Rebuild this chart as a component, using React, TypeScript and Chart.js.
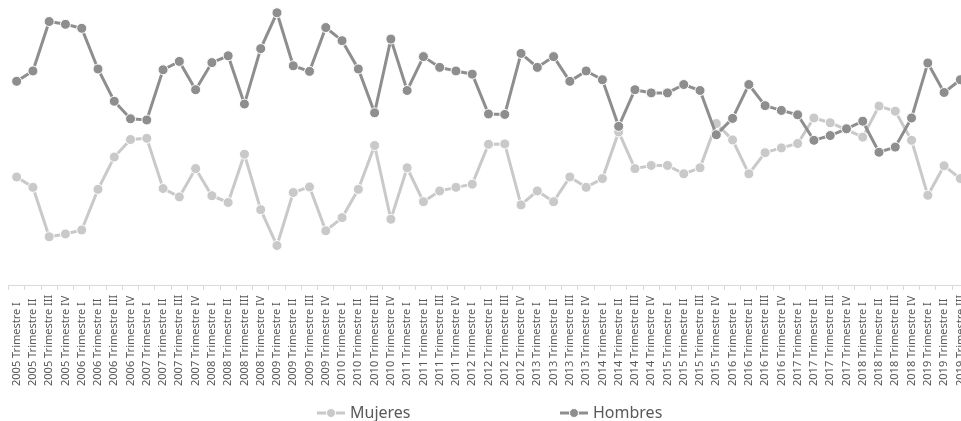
import React, { useEffect, useRef } from 'react';
import { Chart, registerables } from 'chart.js';

Chart.register(...registerables);

const categories = [
  '2005 Trimestre I', '2005 Trimestre II', '2005 Trimestre III', '2005 Trimestre IV',
  '2006 Trimestre I', '2006 Trimestre II', '2006 Trimestre III', '2006 Trimestre IV',
  '2007 Trimestre I', '2007 Trimestre II', '2007 Trimestre III', '2007 Trimestre IV',
  '2008 Trimestre I', '2008 Trimestre II', '2008 Trimestre III', '2008 Trimestre IV',
  '2009 Trimestre I', '2009 Trimestre II', '2009 Trimestre III', '2009 Trimestre IV',
  '2010 Trimestre I', '2010 Trimestre II', '2010 Trimestre III', '2010 Trimestre IV',
  '2011 Trimestre I', '2011 Trimestre II', '2011 Trimestre III', '2011 Trimestre IV',
  '2012 Trimestre I', '2012 Trimestre II', '2012 Trimestre III', '2012 Trimestre IV',
  '2013 Trimestre I', '2013 Trimestre II', '2013 Trimestre III', '2013 Trimestre IV',
  '2014 Trimestre I', '2014 Trimestre II', '2014 Trimestre III', '2014 Trimestre IV',
  '2015 Trimestre I', '2015 Trimestre II', '2015 Trimestre III', '2015 Trimestre IV',
  '2016 Trimestre I', '2016 Trimestre II', '2016 Trimestre III', '2016 Trimestre IV',
  '2017 Trimestre I', '2017 Trimestre II', '2017 Trimestre III', '2017 Trimestre IV',
  '2018 Trimestre I', '2018 Trimestre II', '2018 Trimestre III', '2018 Trimestre IV',
  '2019 Trimestre I', '2019 Trimestre II', '2019 Trimestre III',
];

const mujeres = [
  38.0, 35.4, 23.0, 23.7, 24.7, 34.9, 43.0, 47.4, 47.7, 35.1,
  33.0, 40.1, 33.3, 31.6, 43.7, 29.8, 20.8, 34.1, 35.5, 24.5,
  27.8, 34.9, 45.9, 27.4, 40.3, 31.8, 34.5, 35.4, 36.2, 46.2,
  46.3, 31.0, 34.5, 31.8, 38.0, 35.4, 37.6, 49.3, 40.1, 40.9,
  40.9, 38.8, 40.3, 51.4, 47.3, 38.8, 44.1, 45.3, 46.4, 52.8,
  51.6, 49.9, 48.0, 55.8, 54.5, 47.2, 33.4, 40.8, 37.6,
];

const hombres = [
  62.0, 64.6, 77.0, 76.3, 75.3, 65.1, 57.0, 52.6, 52.3, 64.9,
  67.0, 59.9, 66.7, 68.4, 56.3, 70.2, 79.2, 65.9, 64.5, 75.5,
  72.2, 65.1, 54.1, 72.6, 59.7, 68.2, 65.5, 64.6, 63.8, 53.8,
  53.7, 69.0, 65.5, 68.2, 62.0, 64.6, 62.4, 50.7, 59.9, 59.1,
  59.1, 61.2, 59.7, 48.6, 52.7, 61.2, 55.9, 54.7, 53.6, 47.2,
  48.4, 50.1, 52.0, 44.2, 45.5, 52.8, 66.6, 59.2, 62.4,
];

const seriesNames = ['Mujeres', 'Hombres'];
const seriesColors = ['#C9C9C9', '#8E8E8E'];

// The original plot runs past the right edge of the picture: stretch the
// category axis beyond the canvas after layout.
const overflowPlugin = {
  id: 'axisOverflow',
  afterLayout(chart: any) {
    const xs = chart.scales.x;
    xs.right = 968.5;
    xs.width = xs.right - xs.left;
    xs.configure();
  },
};

const textPlugin = {
  id: 'excelText',
  afterDraw(chart: any) {
    const ctx = chart.ctx as CanvasRenderingContext2D;
    const xs = chart.scales.x;
    ctx.save();
    // rotated category labels, anchored at the bottom
    ctx.fillStyle = '#595959';
    ctx.font = '11px "Noto Sans"';
    ctx.textAlign = 'left';
    ctx.textBaseline = 'middle';
    (chart.data.labels as string[]).forEach((lab, i) => {
      const x = xs.getPixelForValue(i);
      ctx.save();
      ctx.translate(x, 386);
      ctx.rotate(-Math.PI / 2);
      ctx.fillText(lab, 0, 0);
      ctx.restore();
    });
    // legend
    const legendY = 413;
    const starts = [317, 560];
    chart.data.datasets.forEach((ds: any, i: number) => {
      const x0 = starts[i];
      ctx.strokeStyle = ds.borderColor;
      ctx.lineWidth = 3;
      ctx.beginPath();
      ctx.moveTo(x0, legendY);
      ctx.lineTo(x0 + 28, legendY);
      ctx.stroke();
      ctx.beginPath();
      ctx.arc(x0 + 14, legendY, 4.5, 0, Math.PI * 2);
      ctx.fillStyle = ds.borderColor;
      ctx.fill();
      ctx.strokeStyle = '#FFFFFF';
      ctx.lineWidth = 1;
      ctx.stroke();
      ctx.fillStyle = '#595959';
      ctx.font = '16px "Noto Sans"';
      ctx.textAlign = 'left';
      ctx.textBaseline = 'middle';
      ctx.fillText(ds.label, x0 + 33, legendY);
    });
    ctx.restore();
  },
};

export default function App() {
  const ref = useRef<HTMLCanvasElement | null>(null);

  useEffect(() => {
    if (!ref.current) return;
    const makeDs = (i: number, data: number[], order: number) => ({
      label: seriesNames[i],
      data,
      borderColor: seriesColors[i],
      backgroundColor: seriesColors[i],
      pointBackgroundColor: seriesColors[i],
      pointBorderColor: '#FFFFFF',
      pointBorderWidth: 1,
      pointRadius: 5,
      borderWidth: 3,
      tension: 0,
      order,
      clip: false as any,
    });
    const chart = new Chart(ref.current, {
      type: 'line',
      data: {
        labels: categories,
        datasets: [makeDs(0, mujeres, 2), makeDs(1, hombres, 1)],
      },
      plugins: [overflowPlugin, textPlugin],
      options: {
        responsive: false,
        animation: false,
        devicePixelRatio: 1,
        layout: { padding: { left: 8.5, right: 0.5, top: 5, bottom: 0 } },
        plugins: { legend: { display: false }, tooltip: { enabled: false } },
        scales: {
          x: {
            type: 'category',
            offset: true,
            grid: {
              display: true,
              drawOnChartArea: false,
              drawTicks: true,
              tickLength: 5,
              color: '#D9D9D9',
              offset: true,
            },
            border: { display: true, color: '#D9D9D9', width: 1 },
            ticks: { display: false },
            afterFit: (scale: any) => {
              scale.height = 136;
            },
          },
          y: {
            display: false,
            min: 10.9,
            max: 80.9,
          },
        },
      },
    });
    return () => chart.destroy();
  }, []);

  return (
    <div style={{ position: 'absolute', left: 0, top: 0, width: 961, height: 421, background: '#FFFFFF' }}>
      <canvas ref={ref} width={961} height={421} style={{ width: 961, height: 421, display: 'block' }} />
    </div>
  );
}
